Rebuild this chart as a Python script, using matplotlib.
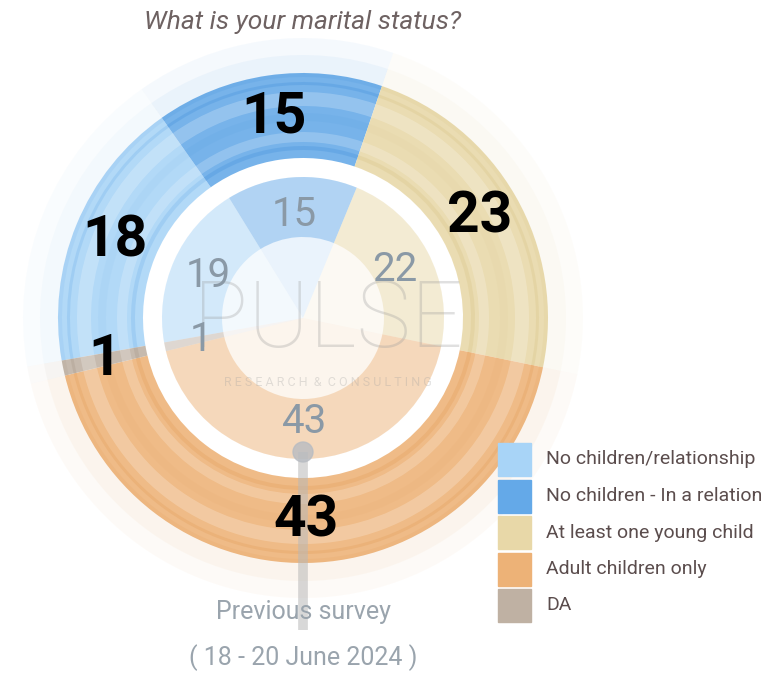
import numpy as np
import matplotlib
matplotlib.use("Agg")
import matplotlib.pyplot as plt
from matplotlib.patches import Rectangle, Circle

plt.rcParams['font.family'] = ['Roboto', 'DejaVu Sans']

categories = ['No children/relationship', 'No children - In a relationship',
              'At least one young child', 'Adult children only', 'DA']
current = [18, 15, 23, 43, 1]
previous = [19, 15, 22, 43, 1]
colors = ['#a8d4f7', '#64a9e8', '#e8d8a8', '#edb277', '#bfb1a3']
darker = ['#6fb0ea', '#3f8fdb', '#d6c282', '#e29b55', '#a59585']

W, H = 761, 674
fig = plt.figure(figsize=(W / 100, H / 100), dpi=100)
ax = fig.add_axes([0, 0, 1, 1])

cx, cy = 303, H - 318
start = 190

def ring(vals, r_out, width, alpha=1.0, cols=colors):
    w, _ = ax.pie(vals, radius=r_out, center=(cx, cy), startangle=start,
                  counterclock=False, colors=cols, frame=True,
                  wedgeprops=dict(width=width, alpha=alpha, linewidth=0))
    return w

# faint halo
ring(current, 280, 35, alpha=0.06)
ring(current, 263, 18, alpha=0.07)

# outer ring with soft shading bands
wedges = ring(current, 245, 85, alpha=0.88)
ring(current, 245, 4, alpha=0.15, cols=darker)
ring(current, 236, 3, alpha=0.28, cols=darker)
ring(current, 226, 14, alpha=0.22, cols=['white'] * 5)
ring(current, 205, 8, alpha=0.08, cols=darker)
ring(current, 186, 10, alpha=0.2, cols=['white'] * 5)
ring(current, 172, 4, alpha=0.28, cols=darker)

# inner ring (previous survey)
ring(previous, 141, 141, alpha=0.13)
inner = ring(previous, 141, 60, alpha=0.42)

ax.set_xlim(0, W)
ax.set_ylim(0, H)
ax.set_aspect('equal')
ax.axis('off')

# watermark
ax.text(328, H - 322, 'PULSE', fontsize=66, color='#9a9a9a', alpha=0.3,
        ha='center', va='center', fontweight='light')
ax.text(328, H - 383, 'R E S E A R C H  &  C O N S U L T I N G', fontsize=9,
        color='#a0a0a0', alpha=0.3, ha='center', va='center')

# previous survey marker line
ax.plot([cx, cx], [H - 452, H - 630], color='#b8b8b8', lw=7, alpha=0.55,
        solid_capstyle='butt', zorder=3)
ax.add_patch(Circle((cx, H - 452), 10, color='#b8bcc2', alpha=0.8, zorder=3))

def label(w, r, txt, **kw):
    ang = np.deg2rad((w.theta1 + w.theta2) / 2)
    ax.text(cx + r * np.cos(ang), cy + r * np.sin(ang), txt, ha='center',
            va='center', zorder=5, **kw)

for w, v in zip(wedges, current):
    label(w, 203, str(v), fontsize=41, fontweight='bold', color='black')
for w, v in zip(inner, previous):
    label(w, 104, str(v), fontsize=29, color='#8a99a6')

ax.text(cx, H - 22, 'What is your marital status?', fontsize=19, style='italic',
        color='#6e6262', ha='center', va='center')
ax.text(cx, H - 612, 'Previous survey', fontsize=18, color='#9aa4ad',
        ha='center', va='center', zorder=5)
ax.text(cx, H - 658, '( 18 - 20 June 2024 )', fontsize=18, color='#9aa4ad',
        ha='center', va='center')

# legend
for i, (c, name) in enumerate(zip(colors, categories)):
    y0 = H - 443 - i * 36.5
    ax.add_patch(Rectangle((498, y0 - 33), 33, 33, color=c))
    ax.text(546, y0 - 16.5, name, fontsize=14, color='#5b4d4d', va='center', ha='left')

fig.savefig('out.png', dpi=100)
